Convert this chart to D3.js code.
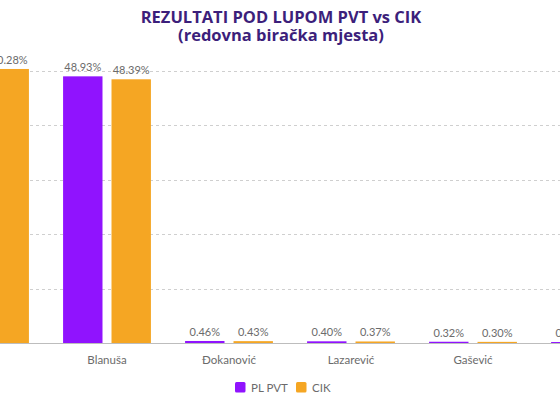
<!DOCTYPE html>
<html>
<head>
<meta charset="utf-8">
<script src="https://cdn.jsdelivr.net/npm/d3@7"></script>
<style>
  body { margin: 0; background: #fff; }
  svg { display: block; font-family: Lato, "Open Sans", sans-serif; }
</style>
</head>
<body>
<script>
var width = 560,
    height = 410;

// data (first and last group are cut by the frame)
var candidates = ["Karan", "Blanuša", "Đokanović", "Lazarević", "Gašević", "Dragičević"];
var series = ["PL PVT", "CIK"];
var pvtValues = [49.6, 48.93, 0.46, 0.40, 0.32, 0.27];
var cikValues = [50.28, 48.39, 0.43, 0.37, 0.30, 0.25];
var gridTicks = [10, 20, 30, 40, 50];
var colors = ["#9013fe", "#f5a623"];

var rows = candidates.map(function(c, i) {
  return {name: c, values: [pvtValues[i], cikValues[i]]};
});

var svg = d3.select("body").append("svg")
    .attr("width", width)
    .attr("height", height);

// title
var titleLines = ["REZULTATI POD LUPOM PVT vs CIK", "(redovna biračka mjesta)"];
svg.selectAll("text.title")
  .data(titleLines)
  .enter().append("text")
    .attr("class", "title")
    .attr("x", 281)
    .attr("y", function(d,i){ return 23 + i*18; })
    .attr("text-anchor", "middle")
    .attr("font-family", "'Open Sans', sans-serif")
    .attr("font-size", 16.5)
    .attr("font-weight", "bold")
    .attr("fill", "#3c1f7b")
    .text(function(d){ return d; });

var x0 = d3.scaleBand()
    .domain(candidates)
    .range([-76, 656])
    .paddingInner(0.28)
    .paddingOuter(0.14);

var x1 = d3.scaleBand()
    .domain(series)
    .range([0, x0.bandwidth()])
    .paddingInner(0.186);

var y = d3.scaleLinear()
    .domain([0, 50])
    .range([343.5, 70.5]);

// dashed grid
svg.append("g").selectAll("line")
  .data(gridTicks)
  .enter().append("line")
    .attr("x1", 0).attr("x2", width)
    .attr("y1", function(d){ return Math.round(y(d)) + 0.5; })
    .attr("y2", function(d){ return Math.round(y(d)) + 0.5; })
    .attr("stroke", "#cfcfcf")
    .attr("stroke-dasharray", "3,3");

var groups = svg.append("g").selectAll("g")
  .data(rows)
  .enter().append("g")
    .attr("transform", function(d){ return "translate(" + x0(d.name) + ",0)"; });

groups.selectAll("rect")
  .data(function(d){ return d.values; })
  .enter().append("rect")
    .attr("x", function(d,i){ return x1(series[i]); })
    .attr("y", function(d){ return y(d); })
    .attr("width", x1.bandwidth())
    .attr("height", function(d){ return y(0) - y(d); })
    .attr("fill", function(d,i){ return colors[i]; });

groups.selectAll("text.val")
  .data(function(d){ return d.values; })
  .enter().append("text")
    .attr("class", "val")
    .attr("x", function(d,i){ return x1(series[i]) + x1.bandwidth()/2; })
    .attr("y", function(d){ return y(d) - 5; })
    .attr("text-anchor", "middle")
    .attr("font-size", 11)
    .attr("fill", "#6b6b6b")
    .text(function(d){ return d.toFixed(2) + "%"; });

// baseline + category labels
var xAxis = svg.append("g")
    .attr("transform", "translate(0," + y(0) + ")");

xAxis.append("line")
    .attr("x1", 0).attr("x2", width)
    .attr("stroke", "#bdbdbd");

xAxis.selectAll("text")
  .data(candidates)
  .enter().append("text")
    .attr("x", function(d){ return x0(d) + x0.bandwidth()/2; })
    .attr("y", 20)
    .attr("text-anchor", "middle")
    .attr("font-size", 11.5)
    .attr("fill", "#6b6b6b")
    .text(function(d){ return d; });

// legend
var legend = svg.append("g").attr("transform", "translate(235,382)");
var legendX = [0, 61];

var item = legend.selectAll("g")
  .data(series)
  .enter().append("g")
    .attr("transform", function(d,i){ return "translate(" + legendX[i] + ",0)"; });

item.append("rect")
    .attr("width", 10.5).attr("height", 10.5)
    .attr("rx", 1.5)
    .attr("fill", function(d,i){ return colors[i]; });

item.append("text")
    .attr("x", 16).attr("y", 9.5)
    .attr("font-size", 11.5)
    .attr("fill", "#6b6b6b")
    .text(function(d){ return d; });
</script>
</body>
</html>
